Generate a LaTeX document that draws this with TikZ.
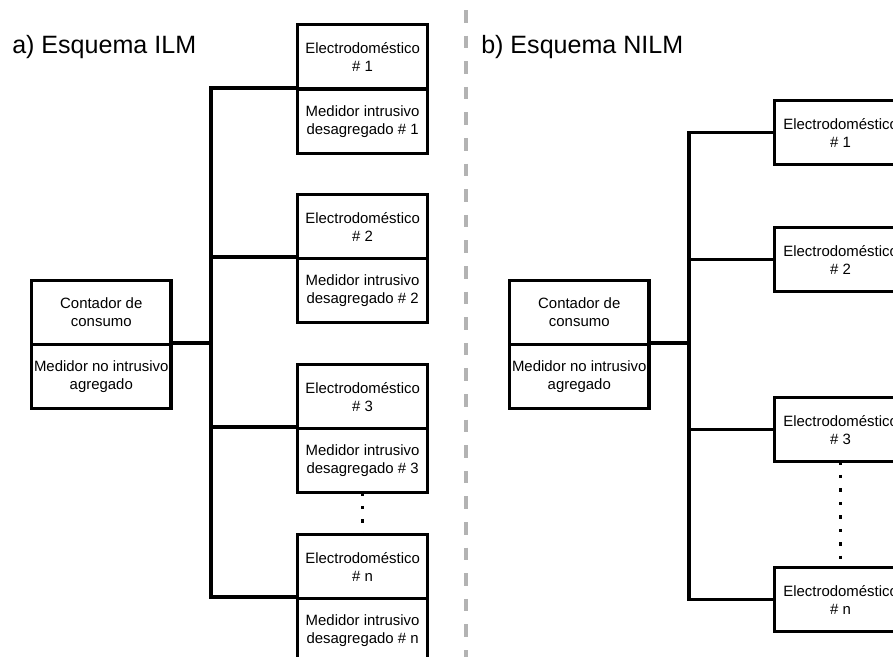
\documentclass[tikz,border=0pt]{standalone}
\usepackage{fontspec}
\setmainfont{Liberation Sans}
\begin{document}
\begin{tikzpicture}[x=0.75pt,y=-0.75pt,
  box/.style={draw, line width=2.4pt, inner sep=0pt, align=center,
    anchor=north west, minimum height=48pt,
    font=\fontsize{11.2}{13.5}\selectfont},
  appl/.style={box, minimum width=97.5pt},
  rappl/.style={box, minimum width=99pt},
  meter/.style={box, minimum width=104.5pt},
  title/.style={anchor=base west, inner sep=0pt, font=\fontsize{18.8}{22}\selectfont},
  wire/.style={line width=2.4pt},
  dotsline/.style={line width=2.6pt, dash pattern=on 2.6pt off 7.5pt, dash phase=1.3pt},
  separator/.style={line width=3pt, color=sepgray, dash pattern=on 9.5pt off 9.7pt}]
\definecolor{sepgray}{HTML}{B3B3B3}
\useasboundingbox (0,0) rectangle (893,657);

% separator between the two schemes
\coordinate (sepTop) at (466,10);
\coordinate (sepBot) at (466,670);
\draw[separator] (sepTop) -- (sepBot);

% ---------------- a) ILM ----------------
\node[title] (ta) at (12,53.5) {a) Esquema ILM};

\node[meter] (lc)  at (30,279) {Contador de\\consumo};
\node[meter] (lcm) at (30,343) {Medidor no intrusivo\\agregado};

\node[appl] (le1) at (296,23)  {Electrodoméstico\\\# 1};
\node[appl] (lm1) at (296,88)  {Medidor intrusivo\\desagregado \# 1};
\node[appl] (le2) at (296,193) {Electrodoméstico\\\# 2};
\node[appl] (lm2) at (296,257) {Medidor intrusivo\\desagregado \# 2};
\node[appl] (le3) at (296,363) {Electrodoméstico\\\# 3};
\node[appl] (lm3) at (296,427) {Medidor intrusivo\\desagregado \# 3};
\node[appl] (le4) at (296,533) {Electrodoméstico\\\# n};
\node[appl] (lm4) at (296,597) {Medidor intrusivo\\desagregado \# n};

\coordinate (lbus) at (211,343);
\draw[wire] (lm1.north west) -| (lm4.north west -| lbus) -- (lm4.north west);
\draw[wire] (lcm.north east) -- (lbus);
\draw[wire] (lm2.north west) -- (lm2.north west -| lbus);
\draw[wire] (lm3.north west) -- (lm3.north west -| lbus);
\draw[dotsline] (lm3.south) -- (le4.north);

% ---------------- b) NILM ----------------
\node[title] (tb) at (481,53.5) {b) Esquema NILM};

\node[meter] (rc)  at (508,279) {Contador de\\consumo};
\node[meter] (rcm) at (508,343) {Medidor no intrusivo\\agregado};

\node[rappl] (re1) at (773,99)  {Electrodoméstico\\\# 1};
\node[rappl] (re2) at (773,226) {Electrodoméstico\\\# 2};
\node[rappl] (re3) at (773,396) {Electrodoméstico\\\# 3};
\node[rappl] (re4) at (773,566) {Electrodoméstico\\\# n};

\coordinate (rbus) at (689,343);
\draw[wire] (re1.west) -| (re4.west -| rbus) -- (re4.west);
\draw[wire] (rcm.north east) -- (rbus);
\draw[wire] (re2.west) -- (re2.west -| rbus);
\draw[wire] (re3.west) -- (re3.west -| rbus);
\draw[dotsline] (re3.south) -- (re4.north);
\end{tikzpicture}
\end{document}
